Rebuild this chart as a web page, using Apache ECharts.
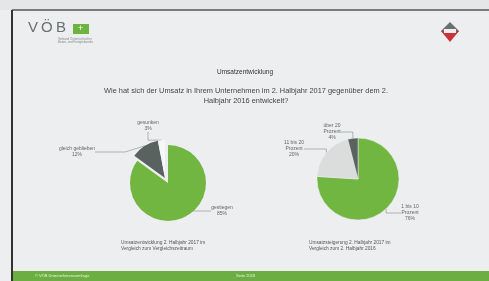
<!DOCTYPE html>
<html><head><meta charset="utf-8">
<script src="https://cdn.jsdelivr.net/npm/echarts@6/dist/echarts.min.js"></script>
<style>html,body{margin:0;padding:0;background:#eceef0}#c{width:489px;height:281px}</style>
</head><body><div id="c"></div>
<script>
const leftCats = ['gestiegen', 'gleich geblieben', 'gesunken'];
const leftVals = [85, 12, 3];
const rightCats = ['1 bis 10\nProzent', '11 bis 20\nProzent', 'über 20\nProzent'];
const rightVals = [76, 20, 4];
const titleText = 'Umsatzentwicklung';
const questionText = 'Wie hat sich der Umsatz in Ihrem Unternehmen im 2. Halbjahr 2017 gegenüber dem 2.\nHalbjahr 2016 entwickelt?';
const leftCaption = 'Umsatzentwicklung 2. Halbjahr 2017 im\nVergleich zum Vergleichszeitraum';
const rightCaption = 'Umsatzsteigerung 2. Halbjahr 2017 im\nVergleich zum 2. Halbjahr 2016';

const GREEN = '#72b642', DARK = '#59625f', LIGHT = '#dadddb', WHITE = '#f6f7f7', NONE = 'rgba(0,0,0,0)';
const chart = echarts.init(document.getElementById('c'));
const lbl = {color: '#666', fontSize: 5, lineHeight: 6, fontFamily: 'Liberation Sans', align: 'center'};
const leftLabelPos = [[222, 211], [77, 152], [148, 126]];
const rightLabelPos = [[410, 213], [294, 149], [332, 132]];
const fmt = p => p.name + '\n' + p.value + '%';
const lineStyle = {lineStyle: {color: '#888', width: 0.6}};
function leftSeries(center, shown) {
  return {
    type: 'pie', center: center, radius: 38, startAngle: 90, clockwise: true,
    emphasis: {disabled: true},
    label: Object.assign({formatter: fmt}, lbl),
    labelLine: lineStyle,
    labelLayout: p => ({x: leftLabelPos[p.dataIndex][0], y: leftLabelPos[p.dataIndex][1], align: 'center', verticalAlign: 'middle'}),
    data: leftCats.map((n, i) => ({name: n, value: leftVals[i],
      label: {show: shown(i)}, labelLine: {show: shown(i)},
      itemStyle: {color: shown(i) ? [GREEN, DARK, WHITE][i] : NONE}}))
  };
}
chart.setOption({
  backgroundColor: '#eceef0',
  animation: false,
  title: [
    {text: leftCaption, left: 116, top: 235, textStyle: {fontSize: 4.8, fontWeight: 'normal', color: '#555', lineHeight: 6, fontFamily: 'Liberation Sans'}},
    {text: rightCaption, left: 304, top: 235, textStyle: {fontSize: 4.8, fontWeight: 'normal', color: '#555', lineHeight: 6, fontFamily: 'Liberation Sans'}}
  ],
  graphic: [
    {type: 'rect', shape: {x: 0, y: 0, width: 489, height: 10}, style: {fill: '#e4e6e8'}},
    {type: 'line', shape: {x1: 12, y1: 10, x2: 489, y2: 10}, style: {stroke: '#555', lineWidth: 1.5}},
    {type: 'line', shape: {x1: 12, y1: 10, x2: 12, y2: 281}, style: {stroke: '#333', lineWidth: 2}},
    {type: 'rect', shape: {x: 13, y: 271, width: 476, height: 10}, style: {fill: '#6cae42'}},
    {type: 'text', style: {x: 35, y: 274, text: '© VÖB Unternehmensumfrage', fontSize: 4, fill: '#e8f3df'}},
    {type: 'text', style: {x: 236, y: 274, text: 'Seite 2018', fontSize: 4, fill: '#e8f3df'}},
    {type: 'text', style: {x: 245, y: 69, text: titleText, align: 'center', fontSize: 6.5, fill: '#333', fontFamily: 'Liberation Sans'}},
    {type: 'text', style: {x: 246, y: 86, text: questionText, align: 'center', fontSize: 7.4, lineHeight: 10, fill: '#444', fontFamily: 'Liberation Sans'}},
    {type: 'text', style: {x: 28, y: 20, text: 'V', fontSize: 15, fill: '#6a706e', fontFamily: 'Liberation Sans'}},
    {type: 'text', style: {x: 41, y: 20, text: 'Ö', fontSize: 15, fill: '#6a706e', fontFamily: 'Liberation Sans'}},
    {type: 'text', style: {x: 56, y: 20, text: 'B', fontSize: 15, fill: '#6a706e', fontFamily: 'Liberation Sans'}},
    {type: 'rect', shape: {x: 73, y: 24, width: 16, height: 10}, style: {fill: '#6cb33f'}},
    {type: 'text', style: {x: 78, y: 24, text: '+', fontSize: 9, fill: '#fff'}},
    {type: 'text', style: {x: 58, y: 37, text: 'Verband Österreichischer\nBeton- und Fertigteilwerke', fontSize: 3, lineHeight: 3.5, fill: '#888'}},
    {type: 'polygon', shape: {points: [[450, 22], [459, 31], [450, 40], [441, 31]]}, style: {fill: '#6b6f70'}},
    {type: 'polygon', shape: {points: [[441, 31], [459, 31], [450, 42]]}, style: {fill: '#c8333a'}},
    {type: 'rect', shape: {x: 444, y: 29, width: 12, height: 4}, style: {fill: '#eee'}}
  ],
  series: [
    leftSeries([168, 183], i => i === 0),
    leftSeries([165, 178], i => i > 0),
    {
      type: 'pie', center: [358, 179], radius: 41, startAngle: 90, clockwise: true,
      emphasis: {disabled: true},
      label: Object.assign({formatter: fmt}, lbl),
      labelLine: lineStyle,
      labelLayout: p => ({x: rightLabelPos[p.dataIndex][0], y: rightLabelPos[p.dataIndex][1], align: 'center', verticalAlign: 'middle'}),
      itemStyle: {borderColor: '#eceef0', borderWidth: 0.5},
      data: rightCats.map((n, i) => ({name: n, value: rightVals[i],
        itemStyle: {color: [GREEN, LIGHT, DARK][i]}}))
    }
  ]
});
</script></body></html>
